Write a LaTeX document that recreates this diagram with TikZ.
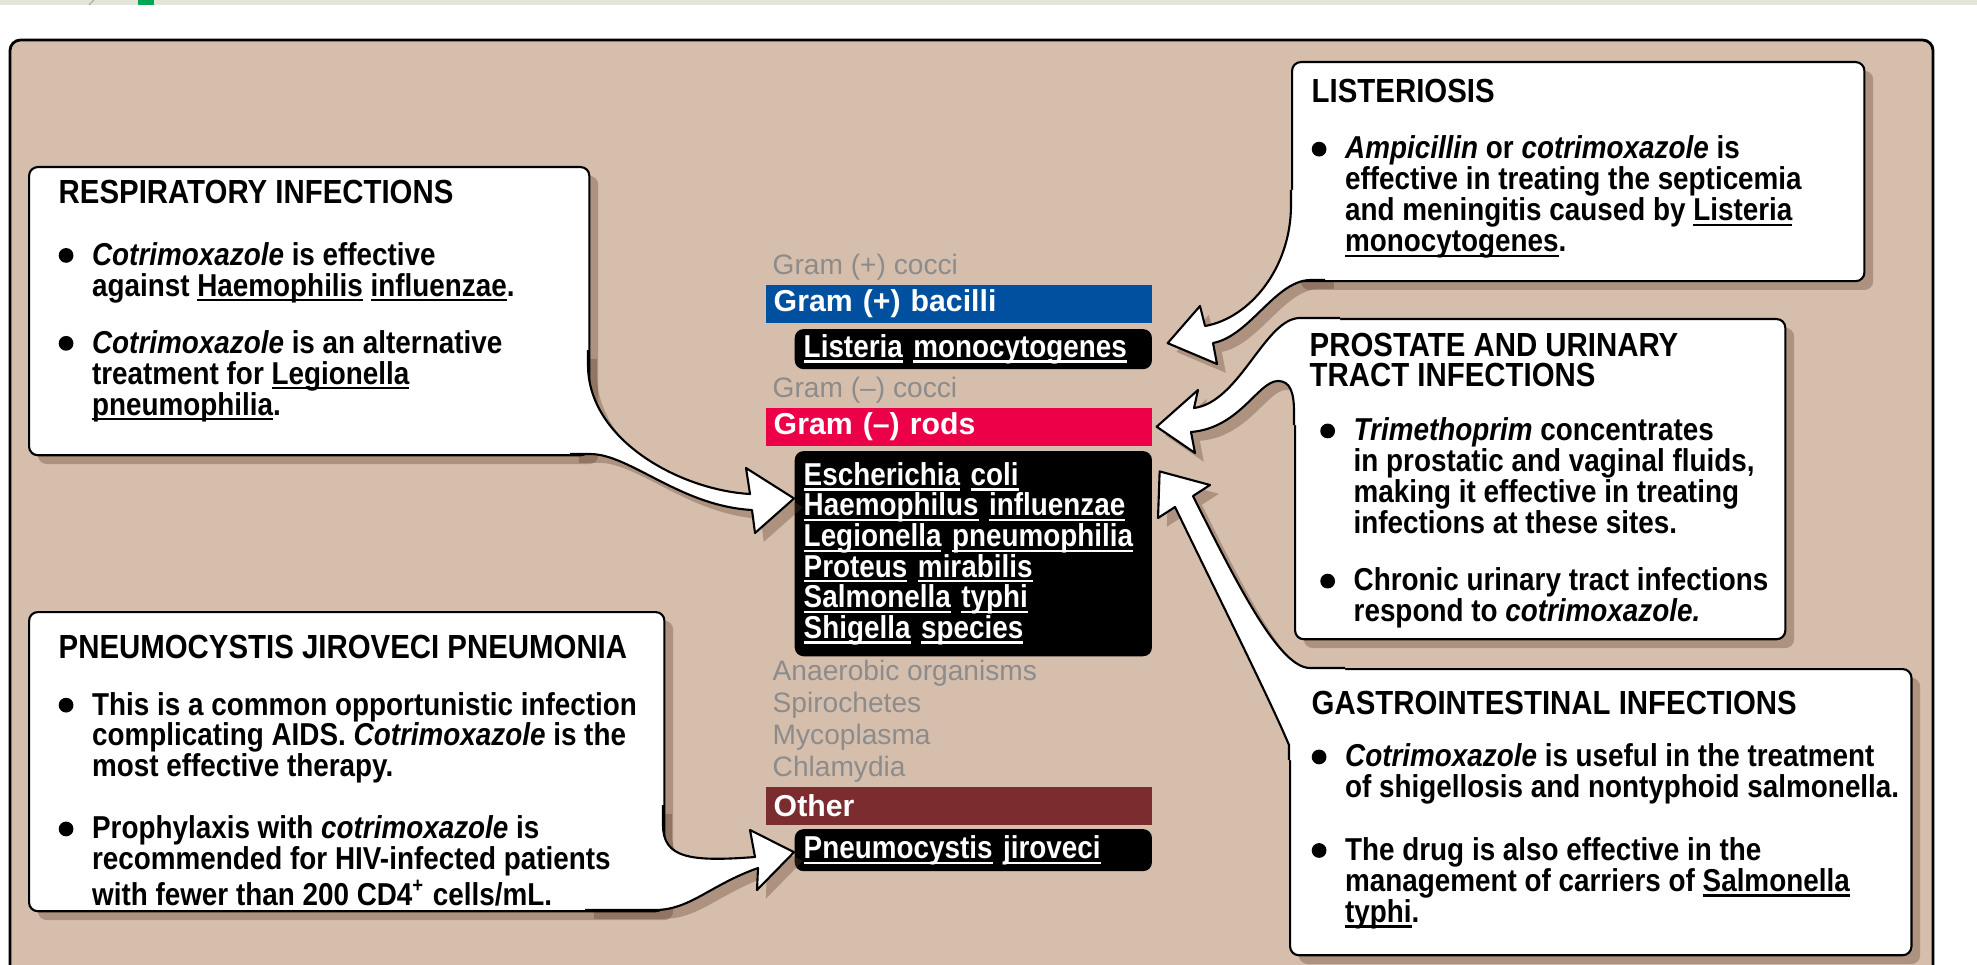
\documentclass[tikz,border=0pt]{standalone}
\usepackage{fontspec}
\setmainfont{Liberation Sans}
\newfontfamily\narrowfont[FakeStretch=0.88]{Liberation Sans}
\usetikzlibrary{positioning, calc, shadows}
\definecolor{tanbg}{RGB}{214,190,172}
\definecolor{gpblue}{RGB}{0,80,160}
\definecolor{gnred}{RGB}{236,0,72}
\definecolor{otherred}{RGB}{123,44,46}
\definecolor{labelgray}{RGB}{140,140,140}
\definecolor{shadowbrown}{RGB}{95,65,45}
\definecolor{stripgray}{RGB}{226,230,216}
\definecolor{markgreen}{RGB}{0,166,81}
\newcommand{\titlefont}{\fontsize{9.5}{9.5}\selectfont}
\newcommand{\dotbullet}{\makebox[9.5pt][l]{\tikz[baseline=-2.8pt]\fill (0,0) circle[radius=2.1pt];}}
\newcommand{\indline}{\makebox[9.5pt]{}}
\newsavebox{\undlbox}
\newcommand{\undl}[1]{\leavevmode\sbox{\undlbox}{#1}\rlap{\rule[-1.5pt]{\wd\undlbox}{0.6pt}}\usebox{\undlbox}}
\newcommand{\edgeA}{(588,350) -- (588,365) .. controls (588,440) and (680,490) .. (750,494) -- (746,468) -- ($(gnlist.north west)+(0,48)$) -- (755,533) -- (752,510) .. controls (680,506) and (630,454) .. (590,454) -- (570,454)}
\newcommand{\shapeA}{\edgeA -- (570,350) -- cycle}
\newcommand{\edgeB}{(663,805) -- (663,825) .. controls (663,858) and (690,862) .. (755,857) -- (750,830) -- ($(pneumoc.west)+(0,2)$) -- (757,890) -- (758,868) .. controls (710,885) and (690,910) .. (655,910) -- (585,910)}
\newcommand{\shapeB}{\edgeB -- (585,805) -- cycle}
\newcommand{\edgeC}{(1291,190) -- (1291,205) .. controls (1291,268) and (1250,318) .. (1205,326) -- (1200,306) -- ($(listeria.east)+(15,-6)$) -- (1217,364) -- (1213,343) .. controls (1250,336) and (1275,281) .. (1310,280) -- (1325,280)}
\newcommand{\shapeC}{\edgeC -- (1325,190) -- cycle}
\newcommand{\edgeD}{(1340,318) -- (1300,318) .. controls (1265,318) and (1240,402) .. (1194,408) -- (1198,390) -- ($(gnrod.east)+(4,0)$) -- (1195,453) -- (1191,432) .. controls (1240,428) and (1258,381) .. (1278,381) .. controls (1290,381) and (1294,392) .. (1294,412) -- (1294,425)}
\newcommand{\shapeD}{\edgeD -- (1340,425) -- cycle}
\newcommand{\edgeE}{(1345,668) -- (1310,668) .. controls (1280,668) and (1240,590) .. (1193,496) -- (1210,485) -- ($(gnlist.north east)+(7,21)$) -- (1158,518) -- (1175,507) .. controls (1220,600) and (1270,700) .. (1289,745) -- (1289,760)}
\newcommand{\shapeE}{\edgeE -- (1345,760) -- cycle}

\begin{document}
\begin{tikzpicture}[x=0.01cm, y=-0.01cm,
        soft/.style={drop shadow={shadow xshift=2.5pt, shadow yshift=-2.5pt, opacity=0.35, fill=shadowbrown}},
        infobox/.style={anchor=north west, draw=black, line width=0.6pt, fill=white, rounded corners=2.5pt, inner sep=0pt, soft},
        infotext/.style={anchor=north west, inner sep=0pt, align=left, font=\narrowfont\bfseries\fontsize{9}{8.8}\selectfont},
        graylabel/.style={anchor=west, inner sep=0pt, align=left, text=labelgray, font=\fontsize{8}{9.1}\selectfont},
        barbox/.style={anchor=north west, minimum width=3.86cm, minimum height=0.38cm, text width=3.70cm, inner xsep=0.08cm, inner ysep=0pt, align=left, text=white, font=\bfseries\fontsize{8.6}{9}\selectfont},
        orgbox/.style={anchor=north west, fill=black, rounded corners=2.5pt, minimum width=3.57cm, text width=3.39cm, inner xsep=0.09cm, inner ysep=0pt, align=left, text=white, font=\narrowfont\bfseries\fontsize{9}{8.7}\selectfont},
        arrowline/.style={draw=black, line width=0.6pt, line join=round}]
    \useasboundingbox (0,0) rectangle (1977,964);
    \clip (0,0) rectangle (1977,964);
    \fill[stripgray] (0,0) rectangle (1977,5);
    \fill[markgreen] (138,0) rectangle (154,5);
    \draw[gray!70, line width=0.3pt] (89,5) -- (94,0);
    \draw[line width=0.8pt, fill=tanbg, rounded corners=3pt] (10,40) rectangle (1933,1010);

    \node [graylabel] (gpcocci) at (772,267) {Gram (+) cocci};
    \node [barbox, fill=gpblue] (gpbac) at (765,284) {Gram (+) bacilli};
    \node [orgbox, minimum height=0.40cm, below=0.05cm of gpbac.south east, anchor=north east] (listeria) {\undl{Listeria} \undl{monocytogenes}};
    \node [graylabel] (gncocci) at (772,390) {Gram (\textendash) cocci};
    \node [barbox, fill=gnred] (gnrod) at (765,407) {Gram (\textendash) rods};
    \node [orgbox, minimum height=2.05cm, below=0.04cm of gnrod.south east, anchor=north east] (gnlist) {\undl{Escherichia} \undl{coli}\\
        \undl{Haemophilus} \undl{influenzae}\\
        \undl{Legionella} \undl{pneumophilia}\\
        \undl{Proteus} \undl{mirabilis}\\
        \undl{Salmonella} \undl{typhi}\\
        \undl{Shigella} \undl{species}};
    \node [graylabel] (others) at (772,721) {Anaerobic organisms\\Spirochetes\\Mycoplasma\\Chlamydia};
    \node [barbox, fill=otherred] (other) at (765,786) {Other};
    \node [orgbox, minimum height=0.42cm, below=0.03cm of other.south east, anchor=north east] (pneumoc) {\undl{Pneumocystis} \undl{jiroveci}};

    \foreach \s in {\shapeA,\shapeB,\shapeC,\shapeD,\shapeE}
        \fill[white, soft] \s;

    \node [infobox, minimum width=5.60cm, minimum height=2.88cm] (respbox) at (28,166) {};
    \node [infobox, minimum width=6.35cm, minimum height=2.99cm] (pneubox) at (28,611) {};
    \node [infobox, minimum width=5.72cm, minimum height=2.19cm] (listbox) at (1291,61) {};
    \node [infobox, minimum width=4.90cm, minimum height=3.20cm] (prosbox) at (1294,318) {};
    \node [infobox, minimum width=6.21cm, minimum height=2.86cm] (gastbox) at (1289,668) {};

    \foreach \s in {\shapeA,\shapeB,\shapeC,\shapeD,\shapeE}
        \fill[white] \s;
    \foreach \e in {\edgeA,\edgeB,\edgeC,\edgeD,\edgeE}
        \draw[arrowline] \e;

    \node [infotext] (resp) at ($(respbox.north west)+(30,13)$) {{\titlefont RESPIRATORY INFECTIONS}\\[8.9pt]
        \dotbullet\textit{Cotrimoxazole} is effective\\
        \indline against \undl{Haemophilis} \undl{influenzae}.\\[7.4pt]
        \dotbullet\textit{Cotrimoxazole} is an alternative\\
        \indline treatment for \undl{Legionella}\\
        \indline\undl{pneumophilia}.};
    \node [infotext] (pneu) at ($(pneubox.north west)+(30,23)$) {{\titlefont PNEUMOCYSTIS JIROVECI PNEUMONIA}\\[7.4pt]
        \dotbullet This is a common opportunistic infection\\
        \indline complicating AIDS. \textit{Cotrimoxazole} is the\\
        \indline most effective therapy.\\[8.8pt]
        \dotbullet Prophylaxis with \textit{cotrimoxazole} is\\
        \indline recommended for HIV-infected patients\\
        \indline with fewer than 200 CD4\textsuperscript{+} cells/mL.};
    \node [infotext] (list) at ($(listbox.north west)+(20,17)$) {{\titlefont LISTERIOSIS}\\[7.4pt]
        \dotbullet\textit{Ampicillin} or \textit{cotrimoxazole} is\\
        \indline effective in treating the septicemia\\
        \indline and meningitis caused by \undl{Listeria}\\
        \indline\undl{monocytogenes}.};
    \node [infotext] (pros) at ($(prosbox.north west)+(15,14)$) {{\titlefont PROSTATE AND URINARY}\\
        {\titlefont TRACT INFECTIONS}\\[6.5pt]
        \hspace*{3pt}\dotbullet\textit{Trimethoprim} concentrates\\
        \hspace*{3pt}\indline in prostatic and vaginal fluids,\\
        \hspace*{3pt}\indline making it effective in treating\\
        \hspace*{3pt}\indline infections at these sites.\\[7.5pt]
        \hspace*{3pt}\dotbullet Chronic urinary tract infections\\
        \hspace*{3pt}\indline respond to \textit{cotrimoxazole.}};
    \node [infotext] (gast) at ($(gastbox.north west)+(22,22)$) {{\titlefont GASTROINTESTINAL INFECTIONS}\\[6.2pt]
        \dotbullet\textit{Cotrimoxazole} is useful in the treatment\\
        \indline of shigellosis and nontyphoid salmonella.\\[9pt]
        \dotbullet The drug is also effective in the\\
        \indline management of carriers of \undl{Salmonella}\\
        \indline\undl{typhi}.};
\end{tikzpicture}
\end{document}
